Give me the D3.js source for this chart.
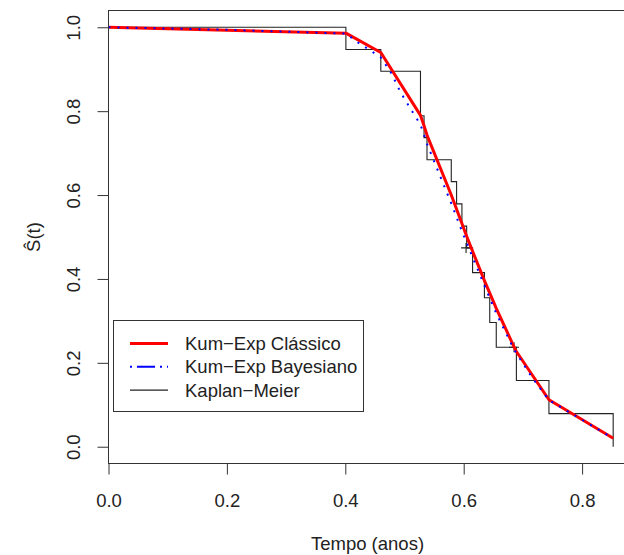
<!DOCTYPE html>
<meta charset="utf-8">
<style>
body { margin: 0; background: white; }
svg { font-family: "Liberation Sans", Arial, sans-serif; }
.axis text { font-size: 18.5px; fill: #222; }
.axis line { stroke: #333; }
.legend text { font-size: 18.5px; fill: #222; }
</style>
<svg width="624" height="555">
  <rect width="100%" height="100%" fill="white"/>
</svg>
<script src="https://d3js.org/d3.v7.min.js"></script>
<script>

// Kaplan-Meier steps (time, survival after the drop)
var kmTime = [0, 0.401, 0.460, 0.527, 0.533, 0.538, 0.579, 0.588, 0.597, 0.605, 0.615, 0.635, 0.644, 0.655, 0.689, 0.744, 0.8525];
var kmSurv = [1, 0.947, 0.895, 0.789, 0.737, 0.684, 0.632, 0.579, 0.526, 0.474, 0.415, 0.355, 0.296, 0.237, 0.158, 0.079, 0];

// censored observations
var censorTime = [0.604, 0.685];
var censorSurv = [0.474, 0.237];

// Kum-Exp classic fit
var fitTime = [0, 0.401, 0.460, 0.527, 0.533, 0.538, 0.579, 0.588, 0.597, 0.605, 0.615, 0.635, 0.644, 0.655, 0.685, 0.689, 0.744, 0.8525];
var classico = [1.000, 0.986, 0.940, 0.790, 0.765, 0.743, 0.600, 0.566, 0.532, 0.502, 0.466, 0.396, 0.366, 0.330, 0.238, 0.227, 0.112, 0.020];

// Kum-Exp bayesian fit
var bayesTime = [0, 0.200, 0.401, 0.420, 0.440, 0.460, 0.478, 0.493, 0.510, 0.527, 0.538, 0.579, 0.597, 0.615, 0.635, 0.655, 0.685, 0.715, 0.744, 0.8525];
var bayesiano = [1.000, 0.994, 0.985, 0.965, 0.947, 0.928, 0.890, 0.846, 0.806, 0.768, 0.722, 0.580, 0.514, 0.452, 0.384, 0.318, 0.232, 0.166, 0.111, 0.020];

var xTicks = [0, 0.2, 0.4, 0.6, 0.8];
var yTicks = [0, 0.2, 0.4, 0.6, 0.8, 1.0];

var legendLabels = ["Kum\u2212Exp Cl\u00e1ssico", "Kum\u2212Exp Bayesiano", "Kaplan\u2212Meier"];

var svg = d3.select("svg");

var boxL = 108.5, boxT = 10.5, boxR = 626.5, boxB = 463.5;

var x = d3.scaleLinear().domain([0, 0.875]).range([boxL, boxR]);
var y = d3.scaleLinear().domain([-0.04, 1.04]).range([boxB, boxT]);

// KM step line
var kmPts = [];
for (var i = 0; i < kmTime.length; i++) {
    if (i > 0) kmPts.push([kmTime[i], kmSurv[i - 1]]);
    kmPts.push([kmTime[i], kmSurv[i]]);
}
var line = d3.line()
    .x(function(d) { return x(d[0]); })
    .y(function(d) { return y(d[1]); });

svg.append("path")
    .datum(kmPts)
    .attr("fill", "none")
    .attr("stroke", "#222")
    .attr("stroke-width", 1.1)
    .attr("d", line);

svg.append("g")
    .selectAll("path")
    .data(d3.zip(censorTime, censorSurv))
    .enter().append("path")
    .attr("fill", "none")
    .attr("stroke", "#222")
    .attr("stroke-width", 1.1)
    .attr("d", function(d) {
        var cx = x(d[0]), cy = y(d[1]);
        return "M" + (cx - 5) + "," + cy + "H" + (cx + 5) + "M" + cx + "," + (cy - 5) + "V" + (cy + 5);
    });

svg.append("path")
    .datum(d3.zip(fitTime, classico))
    .attr("fill", "none")
    .attr("stroke", "#f00")
    .attr("stroke-width", 3)
    .attr("stroke-linejoin", "round")
    .attr("d", line);

svg.append("path")
    .datum(d3.zip(bayesTime, bayesiano))
    .attr("fill", "none")
    .attr("stroke", "#00f")
    .attr("stroke-width", 2)
    .attr("stroke-dasharray", "2,7")
    .attr("d", line);

// box
svg.append("rect")
    .attr("x", boxL).attr("y", boxT)
    .attr("width", boxR - boxL).attr("height", boxB - boxT)
    .attr("fill", "none")
    .attr("stroke", "#333");

// axes
var xAxis = svg.append("g")
    .attr("class", "axis")
    .attr("transform", "translate(0," + boxB + ")")
    .call(d3.axisBottom(x).tickValues(xTicks).tickSize(11).tickFormat(d3.format(".1f")));
xAxis.select(".domain").remove();
xAxis.selectAll("text").attr("y", 43.5).attr("dy", null).attr("fill", "#222");

var yAxis = svg.append("g")
    .attr("class", "axis")
    .attr("transform", "translate(" + boxL + ",0)")
    .call(d3.axisLeft(y).tickValues(yTicks).tickSize(11).tickFormat(d3.format(".1f")));
yAxis.select(".domain").remove();
yAxis.selectAll("text")
    .attr("transform", "rotate(-90)")
    .attr("x", 0).attr("y", -29).attr("dy", null)
    .attr("text-anchor", "middle")
    .attr("fill", "#222");

svg.append("text")
    .attr("x", (boxL + boxR) / 2).attr("y", 550)
    .attr("text-anchor", "middle")
    .style("font-size", "18.5px").attr("fill", "#222")
    .text("Tempo (anos)");

svg.append("text")
    .attr("transform", "translate(40," + (boxT + boxB) / 2 + ") rotate(-90)")
    .attr("text-anchor", "middle")
    .style("font-size", "18.5px").attr("fill", "#222")
    .text("\u015C(t)");

// legend
var lg = svg.append("g").attr("class", "legend");
lg.append("rect")
    .attr("x", 113.5).attr("y", 320.5)
    .attr("width", 250).attr("height", 91)
    .attr("fill", "white").attr("stroke", "#333");

var legendStyle = [
    { color: "#f00", width: 3, dash: null },
    { color: "#00f", width: 2, dash: "2,5,18,5" },
    { color: "#222", width: 1.1, dash: null }
];
var rows = lg.selectAll("g.row")
    .data(legendLabels)
    .enter().append("g")
    .attr("class", "row")
    .attr("transform", function(d, i) { return "translate(0," + (343.5 + i * 23.3) + ")"; });
rows.append("line")
    .attr("x1", 130).attr("x2", 168)
    .attr("stroke", function(d, i) { return legendStyle[i].color; })
    .attr("stroke-width", function(d, i) { return legendStyle[i].width; })
    .attr("stroke-dasharray", function(d, i) { return legendStyle[i].dash; });
rows.append("text")
    .attr("x", 185).attr("y", 6.5)
    .text(function(d) { return d; });

</script>
